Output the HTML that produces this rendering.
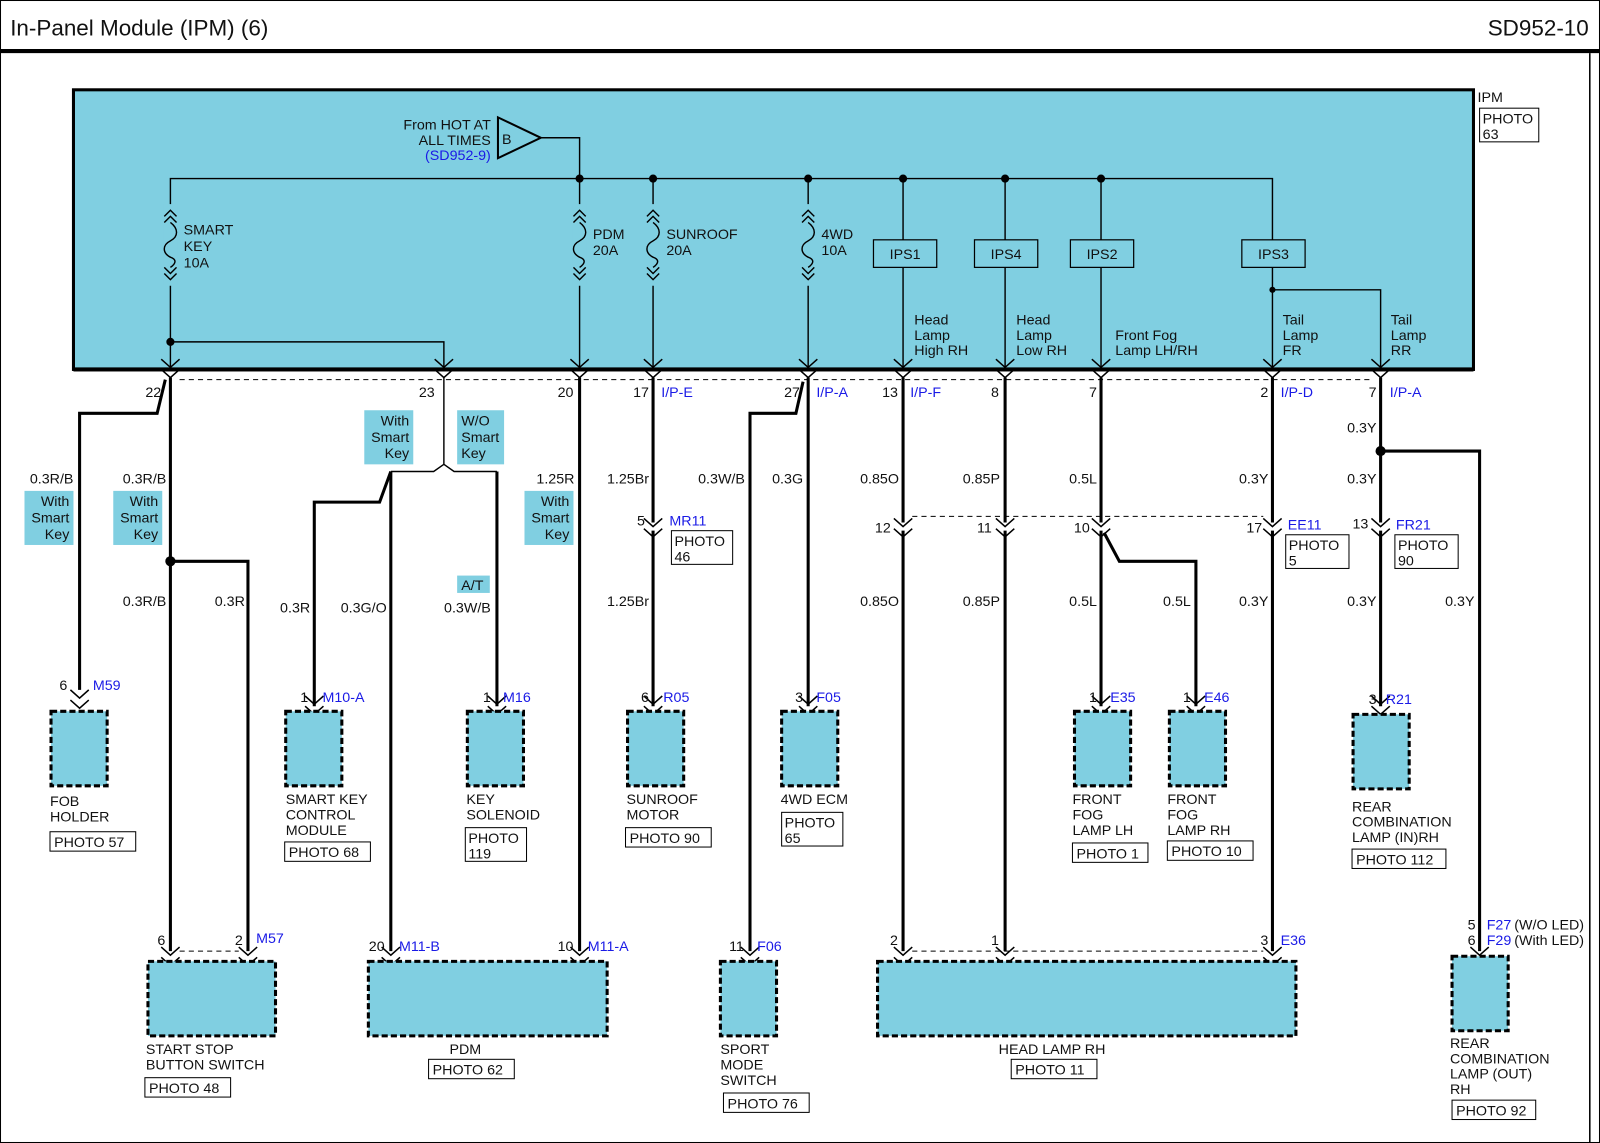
<!DOCTYPE html>
<html><head><meta charset="utf-8"><style>
html,body{margin:0;padding:0;background:#fff}
svg{display:block}
text{font-family:"Liberation Sans",Arial,sans-serif;font-size:14px;fill:#111}
.b{fill:#1a1ae6}
.w{stroke:#000;stroke-width:3;fill:none}
.t{stroke:#000;stroke-width:1.4;fill:none}
.d{stroke:#000;stroke-width:1;fill:none;stroke-dasharray:5 4}
.c{fill:#80cfe1;stroke:#000;stroke-width:3;stroke-dasharray:6 3}
.p{fill:#fff;stroke:#000;stroke-width:1}
.s{fill:#80cfe1}
</style></head><body>
<svg width="1600" height="1143" viewBox="0 0 1568 1120" preserveAspectRatio="none" xmlns="http://www.w3.org/2000/svg">
<defs>
<g id="ch"><path d="M-9,-10 L0,-2 L9,-10 M-9,0 L0,8 L9,0" stroke="#000" stroke-width="1.5" fill="none"/></g>
<g id="fu"><path d="M-6,-28 L0,-34 L6,-28 M-6,-22 L0,-28 L6,-22 M0,-22 C8,-16 8,-8 0,-4 C-8,0 -8,8 0,12 C6,14 6,18 0,22 M-6,22 L0,28 L6,22 M-6,28 L0,34 L6,28" stroke="#000" stroke-width="1.4" fill="none"/></g>
</defs>
<rect x="0.5" y="0.5" width="1567" height="1119" fill="none" stroke="#000" stroke-width="1"/>
<text x="10" y="35" style="font-size:22px">In-Panel Module (IPM) (6)</text>
<text x="1557" y="35" text-anchor="end" style="font-size:22px">SD952-10</text>
<line x1="0" y1="50" x2="1568" y2="50" stroke="#000" stroke-width="4"/>
<line x1="1558" y1="52" x2="1558" y2="1119" stroke="#000" stroke-width="1.5"/>

<rect x="72" y="88" width="1372" height="274" fill="#80cfe1" stroke="#000" stroke-width="3"/>
<text x="1448" y="100">IPM</text>
<rect x="1450" y="106" width="58" height="33" class="p"/>
<text x="1453" y="121">PHOTO</text><text x="1453" y="136">63</text>

<path d="M488,115 L530,135 L488,155 Z" fill="#80cfe1" stroke="#000" stroke-width="2"/>
<text x="492" y="141">B</text>
<text x="481" y="127" text-anchor="end">From HOT AT</text>
<text x="481" y="142" text-anchor="end">ALL TIMES</text>
<text x="481" y="157" text-anchor="end" class="b">(SD952-9)</text>
<path d="M530,135 L568,135 L568,175" class="t"/>

<path d="M167,362 L167,175 L1247,175 L1247,235" class="t"/>
<g fill="#000"><circle cx="568" cy="175" r="4"/><circle cx="640" cy="175" r="4"/><circle cx="792" cy="175" r="4"/><circle cx="885" cy="175" r="4"/><circle cx="985" cy="175" r="4"/><circle cx="1079" cy="175" r="4"/><circle cx="167" cy="335" r="4"/></g>
<rect x="160" y="200" width="14" height="80" fill="#80cfe1"/>
<use href="#fu" x="167" y="240"/>
<text x="180" y="230">SMART</text><text x="180" y="246">KEY</text><text x="180" y="262">10A</text>
<path d="M167,335 L435,335 L435,362" class="t"/>
<line x1="568" y1="175" x2="568" y2="362" class="t"/>
<rect x="561" y="200" width="14" height="80" fill="#80cfe1"/><use href="#fu" x="568" y="240"/>
<text x="581" y="234">PDM</text><text x="581" y="250">20A</text>
<line x1="640" y1="175" x2="640" y2="362" class="t"/>
<rect x="633" y="200" width="14" height="80" fill="#80cfe1"/><use href="#fu" x="640" y="240"/>
<text x="653" y="234">SUNROOF</text><text x="653" y="250">20A</text>
<line x1="792" y1="175" x2="792" y2="362" class="t"/>
<rect x="785" y="200" width="14" height="80" fill="#80cfe1"/><use href="#fu" x="792" y="240"/>
<text x="805" y="234">4WD</text><text x="805" y="250">10A</text>

<line x1="885" y1="175" x2="885" y2="362" class="t"/>
<line x1="985" y1="175" x2="985" y2="362" class="t"/>
<line x1="1079" y1="175" x2="1079" y2="362" class="t"/>
<path d="M1247,262 L1247,362 M1247,284 L1353,284 L1353,362" class="t"/>
<circle cx="1247" cy="284" r="3" fill="#000"/>
<g>
<rect x="856" y="235" width="62" height="27" fill="#80cfe1" stroke="#000" stroke-width="1.2"/><text x="887" y="254" text-anchor="middle">IPS1</text>
<rect x="955" y="235" width="62" height="27" fill="#80cfe1" stroke="#000" stroke-width="1.2"/><text x="986" y="254" text-anchor="middle">IPS4</text>
<rect x="1049" y="235" width="62" height="27" fill="#80cfe1" stroke="#000" stroke-width="1.2"/><text x="1080" y="254" text-anchor="middle">IPS2</text>
<rect x="1217" y="235" width="62" height="27" fill="#80cfe1" stroke="#000" stroke-width="1.2"/><text x="1248" y="254" text-anchor="middle">IPS3</text>
</g>
<text x="896" y="318">Head</text><text x="896" y="333">Lamp</text><text x="896" y="348">High RH</text>
<text x="996" y="318">Head</text><text x="996" y="333">Lamp</text><text x="996" y="348">Low RH</text>
<text x="1093" y="333">Front Fog</text><text x="1093" y="348">Lamp LH/RH</text>
<text x="1257" y="318">Tail</text><text x="1257" y="333">Lamp</text><text x="1257" y="348">FR</text>
<text x="1363" y="318">Tail</text><text x="1363" y="333">Lamp</text><text x="1363" y="348">RR</text>

<line x1="176" y1="372" x2="1344" y2="372" class="d"/>
<rect x="72" y="360" width="1372" height="4" fill="#000"/>
<g transform="translate(0,362)">
<use href="#ch" x="167"/><use href="#ch" x="435"/><use href="#ch" x="568"/><use href="#ch" x="640"/><use href="#ch" x="792"/><use href="#ch" x="885"/><use href="#ch" x="985"/><use href="#ch" x="1079"/><use href="#ch" x="1247"/><use href="#ch" x="1353"/>
</g>
<text x="158" y="389" text-anchor="end">22</text><text x="426" y="389" text-anchor="end">23</text><text x="562" y="389" text-anchor="end">20</text>
<text x="636" y="389" text-anchor="end">17</text><text x="648" y="389" class="b">I/P-E</text>
<text x="784" y="389" text-anchor="end">27</text><text x="800" y="389" class="b">I/P-A</text>
<text x="880" y="389" text-anchor="end">13</text><text x="892" y="389" class="b">I/P-F</text>
<text x="979" y="389" text-anchor="end">8</text>
<text x="1075" y="389" text-anchor="end">7</text>
<text x="1243" y="389" text-anchor="end">2</text><text x="1255" y="389" class="b">I/P-D</text>
<text x="1349" y="389" text-anchor="end">7</text><text x="1362" y="389" class="b">I/P-A</text>

<path d="M162,372 L154,405 L78,405 L78,676" class="w"/>
<path d="M167,370 L167,932" class="w"/>
<path d="M167,550 L243,550 L243,932" class="w"/>
<circle cx="167" cy="550" r="5" fill="#000"/>
<path d="M435,370 L435,455" class="t"/>
<path d="M435,455 L425,462 L383,462 M435,455 L445,462 L487,462" class="t"/>
<path d="M383,462 L372,492 L308,492 L308,692" class="w"/>
<path d="M383,462 L383,932" class="w"/>
<path d="M487,462 L487,692" class="w"/>
<path d="M568,370 L568,932" class="w"/>
<path d="M640,370 L640,512 M640,520 L640,692" class="w"/>
<path d="M787,374 L780,405 L735,405 L735,932" class="w"/>
<path d="M792,370 L792,692" class="w"/>
<path d="M885,370 L885,512 M885,520 L885,932" class="w"/>
<path d="M985,370 L985,512 M985,520 L985,932" class="w"/>
<path d="M1079,370 L1079,512 M1079,520 L1079,692" class="w"/>
<path d="M1082,522 L1097,550 L1172,550 L1172,692" class="w"/>
<path d="M1247,370 L1247,512 M1247,520 L1247,932" class="w"/>
<path d="M1353,370 L1353,512 M1353,520 L1353,692" class="w"/>
<path d="M1353,442 L1450,442 L1450,932" class="w"/>
<circle cx="1353" cy="442" r="5" fill="#000"/>

<text x="72" y="474" text-anchor="end">0.3R/B</text>
<text x="163" y="474" text-anchor="end">0.3R/B</text>
<text x="163" y="594" text-anchor="end">0.3R/B</text>
<text x="240" y="594" text-anchor="end">0.3R</text>
<text x="304" y="600" text-anchor="end">0.3R</text>
<text x="379" y="600" text-anchor="end">0.3G/O</text>
<text x="481" y="600" text-anchor="end">0.3W/B</text>
<text x="563" y="474" text-anchor="end">1.25R</text>
<text x="636" y="474" text-anchor="end">1.25Br</text>
<text x="636" y="594" text-anchor="end">1.25Br</text>
<text x="730" y="474" text-anchor="end">0.3W/B</text>
<text x="787" y="474" text-anchor="end">0.3G</text>
<text x="881" y="474" text-anchor="end">0.85O</text>
<text x="881" y="594" text-anchor="end">0.85O</text>
<text x="980" y="474" text-anchor="end">0.85P</text>
<text x="980" y="594" text-anchor="end">0.85P</text>
<text x="1075" y="474" text-anchor="end">0.5L</text>
<text x="1075" y="594" text-anchor="end">0.5L</text>
<text x="1167" y="594" text-anchor="end">0.5L</text>
<text x="1243" y="474" text-anchor="end">0.3Y</text>
<text x="1243" y="594" text-anchor="end">0.3Y</text>
<text x="1349" y="424" text-anchor="end">0.3Y</text>
<text x="1349" y="474" text-anchor="end">0.3Y</text>
<text x="1349" y="594" text-anchor="end">0.3Y</text>
<text x="1445" y="594" text-anchor="end">0.3Y</text>

<rect x="24" y="481" width="48" height="53" class="s"/><text x="68" y="496" text-anchor="end">With</text><text x="68" y="512" text-anchor="end">Smart</text><text x="68" y="528" text-anchor="end">Key</text>
<rect x="111" y="481" width="48" height="53" class="s"/><text x="155" y="496" text-anchor="end">With</text><text x="155" y="512" text-anchor="end">Smart</text><text x="155" y="528" text-anchor="end">Key</text>
<rect x="357" y="402" width="48" height="53" class="s"/><text x="401" y="417" text-anchor="end">With</text><text x="401" y="433" text-anchor="end">Smart</text><text x="401" y="449" text-anchor="end">Key</text>
<rect x="448" y="402" width="46" height="53" class="s"/><text x="452" y="417">W/O</text><text x="452" y="433">Smart</text><text x="452" y="449">Key</text>
<rect x="448" y="564" width="32" height="17" class="s"/><text x="452" y="578">A/T</text>
<rect x="514" y="481" width="48" height="53" class="s"/><text x="558" y="496" text-anchor="end">With</text><text x="558" y="512" text-anchor="end">Smart</text><text x="558" y="528" text-anchor="end">Key</text>

<line x1="894" y1="506" x2="1238" y2="506" class="d"/>
<g transform="translate(0,518)"><use href="#ch" x="640"/><use href="#ch" x="885"/><use href="#ch" x="985"/><use href="#ch" x="1079"/><use href="#ch" x="1247"/><use href="#ch" x="1353"/></g>
<text x="632" y="515" text-anchor="end">5</text><text x="656" y="515" class="b">MR11</text>
<rect x="658" y="520" width="60" height="33" class="p"/><text x="661" y="535">PHOTO</text><text x="661" y="550">46</text>
<text x="873" y="522" text-anchor="end">12</text>
<text x="972" y="522" text-anchor="end">11</text>
<text x="1068" y="522" text-anchor="end">10</text>
<text x="1237" y="522" text-anchor="end">17</text><text x="1262" y="519" class="b">EE11</text>
<rect x="1260" y="524" width="62" height="33" class="p"/><text x="1263" y="539">PHOTO</text><text x="1263" y="554">5</text>
<text x="1341" y="518" text-anchor="end">13</text><text x="1368" y="519" class="b">FR21</text>
<rect x="1367" y="524" width="62" height="33" class="p"/><text x="1370" y="539">PHOTO</text><text x="1370" y="554">90</text>

<g transform="translate(0,686)"><use href="#ch" x="78"/></g>
<g transform="translate(0,692)"><use href="#ch" x="308"/><use href="#ch" x="487"/><use href="#ch" x="640"/><use href="#ch" x="792"/><use href="#ch" x="1079"/><use href="#ch" x="1172"/><use href="#ch" x="1353"/></g>
<text x="66" y="676" text-anchor="end">6</text><text x="91" y="676" class="b">M59</text>
<text x="302" y="688" text-anchor="end">1</text><text x="316" y="688" class="b">M10-A</text>
<text x="481" y="688" text-anchor="end">1</text><text x="493" y="688" class="b">M16</text>
<text x="636" y="688" text-anchor="end">6</text><text x="650" y="688" class="b">R05</text>
<text x="787" y="688" text-anchor="end">3</text><text x="800" y="688" class="b">F05</text>
<text x="1075" y="688" text-anchor="end">1</text><text x="1088" y="688" class="b">E35</text>
<text x="1167" y="688" text-anchor="end">1</text><text x="1180" y="688" class="b">E46</text>
<text x="1349" y="690" text-anchor="end">3</text><text x="1358" y="690" class="b">R21</text>

<rect x="50" y="697" width="55" height="73" class="c"/>
<text x="49" y="790">FOB</text><text x="49" y="805">HOLDER</text>
<rect x="49" y="815" width="84" height="19" class="p"/><text x="53" y="830">PHOTO 57</text>
<rect x="280" y="697" width="55" height="73" class="c"/>
<text x="280" y="788">SMART KEY</text><text x="280" y="803">CONTROL</text><text x="280" y="818">MODULE</text>
<rect x="279" y="825" width="84" height="19" class="p"/><text x="283" y="840">PHOTO 68</text>
<rect x="458" y="697" width="55" height="73" class="c"/>
<text x="457" y="788">KEY</text><text x="457" y="803">SOLENOID</text>
<rect x="456" y="811" width="60" height="33" class="p"/><text x="459" y="826">PHOTO</text><text x="459" y="841">119</text>
<rect x="615" y="697" width="55" height="73" class="c"/>
<text x="614" y="788">SUNROOF</text><text x="614" y="803">MOTOR</text>
<rect x="613" y="811" width="84" height="19" class="p"/><text x="617" y="826">PHOTO 90</text>
<rect x="766" y="697" width="55" height="73" class="c"/>
<text x="765" y="788">4WD ECM</text>
<rect x="766" y="796" width="60" height="33" class="p"/><text x="769" y="811">PHOTO</text><text x="769" y="826">65</text>
<rect x="1053" y="697" width="55" height="73" class="c"/>
<text x="1051" y="788">FRONT</text><text x="1051" y="803">FOG</text><text x="1051" y="818">LAMP LH</text>
<rect x="1051" y="826" width="74" height="19" class="p"/><text x="1055" y="841">PHOTO 1</text>
<rect x="1146" y="697" width="55" height="73" class="c"/>
<text x="1144" y="788">FRONT</text><text x="1144" y="803">FOG</text><text x="1144" y="818">LAMP RH</text>
<rect x="1144" y="824" width="84" height="19" class="p"/><text x="1148" y="839">PHOTO 10</text>
<rect x="1326" y="700" width="55" height="73" class="c"/>
<text x="1325" y="795">REAR</text><text x="1325" y="810">COMBINATION</text><text x="1325" y="825">LAMP (IN)RH</text>
<rect x="1325" y="832" width="92" height="19" class="p"/><text x="1329" y="847">PHOTO 112</text>

<line x1="176" y1="932" x2="234" y2="932" class="d"/>
<line x1="894" y1="932" x2="1238" y2="932" class="d"/>
<g transform="translate(0,938)"><use href="#ch" x="167"/><use href="#ch" x="243"/><use href="#ch" x="383"/><use href="#ch" x="568"/><use href="#ch" x="735"/><use href="#ch" x="885"/><use href="#ch" x="985"/><use href="#ch" x="1247"/><use href="#ch" x="1450"/></g>
<text x="162" y="926" text-anchor="end">6</text><text x="238" y="926" text-anchor="end">2</text><text x="251" y="924" class="b">M57</text>
<text x="377" y="932" text-anchor="end">20</text><text x="391" y="932" class="b">M11-B</text>
<text x="562" y="932" text-anchor="end">10</text><text x="576" y="932" class="b">M11-A</text>
<text x="729" y="932" text-anchor="end">11</text><text x="742" y="932" class="b">F06</text>
<text x="880" y="926" text-anchor="end">2</text><text x="979" y="926" text-anchor="end">1</text>
<text x="1243" y="926" text-anchor="end">3</text><text x="1255" y="926" class="b">E36</text>
<text x="1446" y="911" text-anchor="end">5</text><text x="1457" y="911" class="b">F27</text><text x="1484" y="911">(W/O LED)</text>
<text x="1446" y="926" text-anchor="end">6</text><text x="1457" y="926" class="b">F29</text><text x="1484" y="926">(With LED)</text>

<rect x="145" y="942" width="125" height="73" class="c"/>
<text x="143" y="1033">START STOP</text><text x="143" y="1048">BUTTON SWITCH</text>
<rect x="142" y="1056" width="84" height="19" class="p"/><text x="146" y="1071">PHOTO 48</text>
<rect x="361" y="942" width="234" height="73" class="c"/>
<text x="456" y="1033" text-anchor="middle">PDM</text>
<rect x="420" y="1038" width="84" height="19" class="p"/><text x="424" y="1053">PHOTO 62</text>
<rect x="706" y="942" width="55" height="73" class="c"/>
<text x="706" y="1033">SPORT</text><text x="706" y="1048">MODE</text><text x="706" y="1063">SWITCH</text>
<rect x="709" y="1071" width="84" height="19" class="p"/><text x="713" y="1086">PHOTO 76</text>
<rect x="860" y="942" width="410" height="73" class="c"/>
<text x="1031" y="1033" text-anchor="middle">HEAD LAMP RH</text>
<rect x="991" y="1038" width="84" height="19" class="p"/><text x="995" y="1053">PHOTO 11</text>
<rect x="1423" y="937" width="55" height="73" class="c"/>
<text x="1421" y="1027">REAR</text><text x="1421" y="1042">COMBINATION</text><text x="1421" y="1057">LAMP (OUT)</text><text x="1421" y="1072">RH</text>
<rect x="1423" y="1078" width="82" height="19" class="p"/><text x="1427" y="1093">PHOTO 92</text>
</svg>
</body></html>
